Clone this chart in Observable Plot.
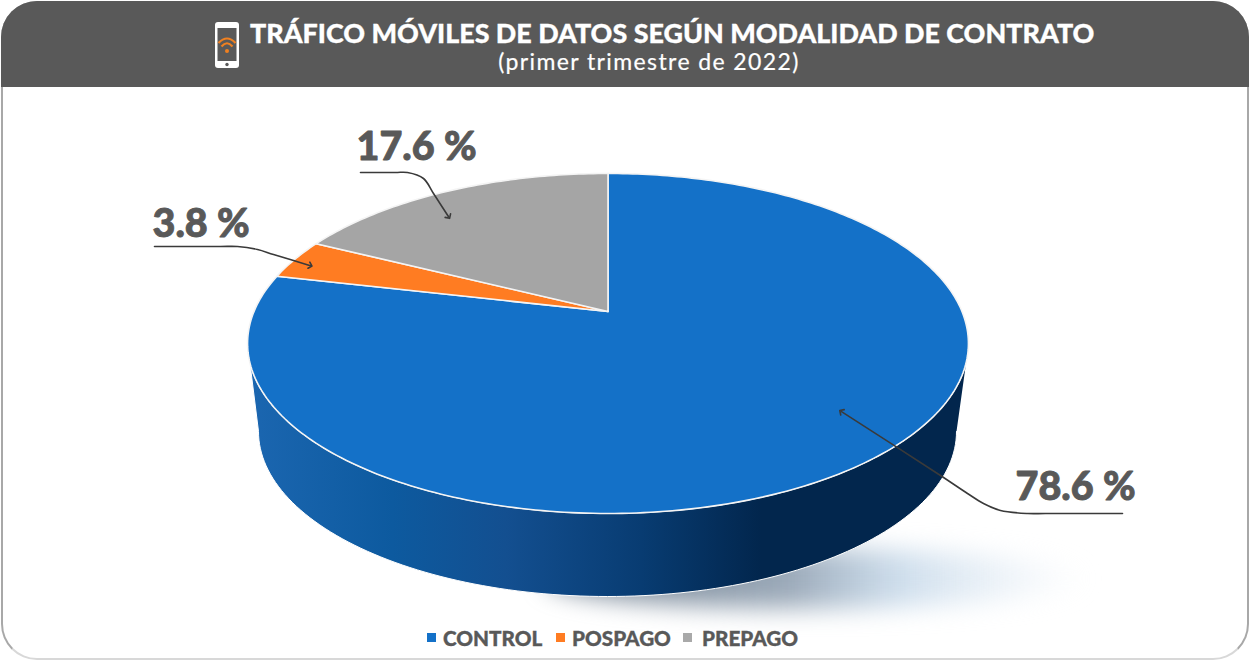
<!DOCTYPE html>
<html lang="es">
<head>
<meta charset="utf-8">
<script src="https://cdn.jsdelivr.net/npm/d3@7"></script>
<script src="https://cdn.jsdelivr.net/npm/@observablehq/plot@0.6"></script>
<style>
  html,body{margin:0;padding:0;background:#fff;}
  body{width:1250px;height:660px;overflow:hidden;position:relative;font-family:Lato,"Open Sans",sans-serif;}
  #card{position:absolute;left:1px;top:1px;width:1244px;height:655px;border:2px solid #a8a8a8;border-bottom-color:#d8d8d8;border-radius:36px;}
  #head{position:absolute;left:-2px;top:-2px;width:1248px;height:86px;background:#595959;color:#fff;border-radius:36px 36px 0 0;}
  #title{position:absolute;left:249px;top:16px;white-space:nowrap;font-size:26.9px;font-weight:900;line-height:32px;-webkit-text-stroke:0.3px #fff;}
  #sub{position:absolute;left:3px;width:1290px;top:48px;text-align:center;font-size:23px;line-height:24px;font-weight:400;white-space:nowrap;letter-spacing:1.4px;-webkit-text-stroke:0.2px #fff;}
  #icon{position:absolute;left:211px;top:20px;}
  #chart{position:absolute;left:0;top:86px;}
  #chart svg{display:block;}
  .lg{position:absolute;top:623px;font-size:20.7px;font-weight:900;color:#595959;line-height:30px;white-space:nowrap;-webkit-text-stroke:0.35px #595959;}
  .sw{position:absolute;top:633px;width:9px;height:9px;}
</style>
</head>
<body>
<div id="chart"></div>
<div id="card">
  <div id="head">
    <svg id="icon" width="30" height="50" viewBox="0 0 30 50">
      <rect x="3" y="1" width="24" height="46" rx="3" fill="#fff"/>
      <rect x="5.5" y="7" width="19" height="33" fill="#595959"/>
      <circle cx="15" cy="43.5" r="1.7" fill="#595959"/>
      <g fill="none" stroke="#f08020" stroke-width="2.2">
        <path d="M6.5 22 Q15 13 23.5 22"/><path d="M9.5 25.5 Q15 19 20.5 25.5"/>
      </g>
      <circle cx="15" cy="30" r="2" fill="#f08020"/>
    </svg>
    <div id="title">TRÁFICO MÓVILES DE DATOS SEGÚN MODALIDAD DE CONTRATO</div>
    <div id="sub">(primer trimestre de 2022)</div>
  </div>
</div>
<script>
// ---- data ----
const categories = ["CONTROL", "POSPAGO", "PREPAGO"];
const shares = [78.6, 3.8, 17.6];

// ---- styling / layout ----
const colors = ["#1471c8", "#ff7c22", "#a5a5a5"];
const legendColors = ["#1471c8", "#ff7c22", "#a9a9a9"];
const legendSwatchX = [427, 556, 683];
const legendTextX = [443, 572, 702];
const labelX = [1015, 152, 356];
const labelY = [487, 224, 147];
const leaderTipRadius = [0.805, 0.935, 0.82];
const leaderTipTurn = [-8.7, -1.4, -6.3];
const leaderPaths = [
  [[1122, 513], [1045, 513], [1027, 513], [1000, 510], [983, 503], [967, 493], [940, 475]],
  [[154, 246], [220, 246], [237, 246], [257, 249], [273, 254]],
  [[360, 172], [395, 172], [407, 172], [423, 178], [433, 193]]
];

// Perspective view of the disc: apex, scale and foreshortening of the top face
const apex = {x: 607.5, y: 311}, scaleU = 354, scaleV = 164, tilt = 0.188;
function project(angle, r = 1) {
  const u = r * Math.sin(angle), v = -r * Math.cos(angle), w = 1 - tilt * v;
  return {x: apex.x + scaleU * u / w, y: apex.y + scaleV * v / w};
}

const arcs = d3.pie().sort(null).value((d) => d)(shares);
const slices = arcs.flatMap((a, i) => {
  const n = Math.max(4, Math.ceil((a.endAngle - a.startAngle) * 60));
  const rim = d3.range(n + 1).map((k) =>
    project(a.startAngle + (a.endAngle - a.startAngle) * k / n));
  return [apex, ...rim, apex].map((p) => ({...p, category: categories[i]}));
});

// Side wall: front of the top face down to the bottom rim
const topRim = {cx: 607.5, cy: 343, rx: 360.5, ry: 170};
const bottomRim = {cx: 607, cy: 431, rx: 349, ry: 165};
const rimPoint = (e, t) => ({x: e.cx + e.rx * Math.cos(t), y: e.cy + e.ry * Math.sin(t)});
const wallStart = 0.118;
const wall = [
  ...d3.range(0, 121).map((k) => rimPoint(topRim, wallStart + (Math.PI - 2 * wallStart) * k / 120)),
  ...d3.range(0, 121).map((k) => rimPoint(bottomRim, Math.PI - Math.PI * k / 120))
];

// Soft floor shadow
const shadow = d3.range(0, 121).map((k) =>
  rimPoint({cx: 815, cy: 578, rx: 270, ry: 30}, 2 * Math.PI * k / 120));

const leaders = arcs.flatMap((a, i) => {
  const mid = (a.startAngle + a.endAngle) / 2 + leaderTipTurn[i] * Math.PI / 180;
  const pts = leaderPaths[i].map(([x, y]) => ({x, y}));
  return [...pts, project(mid, leaderTipRadius[i])].map((p) => ({...p, category: categories[i]}));
});

const labels = categories.map((c, i) => ({
  category: c, text: shares[i].toFixed(1) + " %", x: labelX[i], y: labelY[i]
}));

const defs = () => {
  const d = d3.create("svg:defs");
  const wallG = d.append("linearGradient").attr("id", "wallGrad")
    .attr("gradientUnits", "userSpaceOnUse").attr("x1", 250).attr("x2", 960).attr("y1", 0).attr("y2", 0);
  [[0, "#1b66b0"], [0.2, "#0d5a9f"], [0.36, "#134f90"], [0.55, "#083c72"], [0.72, "#02264d"], [1, "#02264d"]]
    .forEach(([o, c]) => wallG.append("stop").attr("offset", o).attr("stop-color", c));
  const shG = d.append("linearGradient").attr("id", "shadowGrad")
    .attr("gradientUnits", "userSpaceOnUse").attr("x1", 540).attr("x2", 1095).attr("y1", 0).attr("y2", 0);
  [[0, "#5f6f80", 0.9], [0.45, "#8a9bad", 0.85], [0.65, "#b5cde3", 0.65], [0.85, "#d8e5f1", 0.4], [1, "#eef4f9", 0]]
    .forEach(([o, c, a]) => shG.append("stop").attr("offset", o).attr("stop-color", c).attr("stop-opacity", a));
  return d.node();
};

const plot = Plot.plot({
  width: 1250,
  height: 574,
  margin: 0,
  x: {domain: [0, 1250], range: [0, 1250], axis: null},
  y: {domain: [86, 660], range: [0, 574], axis: null},
  color: {domain: categories, range: colors},
  marks: [
    defs,
    Plot.line(shadow, {x: "x", y: "y", fill: "url(#shadowGrad)", stroke: "none", imageFilter: "blur(12px)"}),
    Plot.line(wall, {x: "x", y: "y", fill: "url(#wallGrad)", stroke: "white", strokeWidth: 1}),
    Plot.line(slices, {x: "x", y: "y", z: "category", fill: "category", stroke: "#f4f4f4", strokeWidth: 1.6, strokeLinejoin: "round"}),
    Plot.line(leaders, {x: "x", y: "y", z: "category", stroke: "#3a3a3a", strokeWidth: 1.6, curve: "catmull-rom", markerEnd: "arrow"}),
    Plot.text(labels, {x: "x", y: "y", text: "text", textAnchor: "start", fill: "#595959", stroke: "#595959", strokeWidth: 0.9,
      fontSize: 39.5, fontWeight: 900, fontFamily: "Lato, 'Open Sans', sans-serif"})
  ]
});
document.getElementById("chart").appendChild(plot);

categories.forEach((c, i) => {
  const s = document.createElement("div");
  s.className = "sw";
  s.style.left = legendSwatchX[i] + "px";
  s.style.background = legendColors[i];
  document.body.appendChild(s);
  const t = document.createElement("div");
  t.className = "lg";
  t.style.left = legendTextX[i] + "px";
  t.textContent = c;
  document.body.appendChild(t);
});
</script>
</body>
</html>
